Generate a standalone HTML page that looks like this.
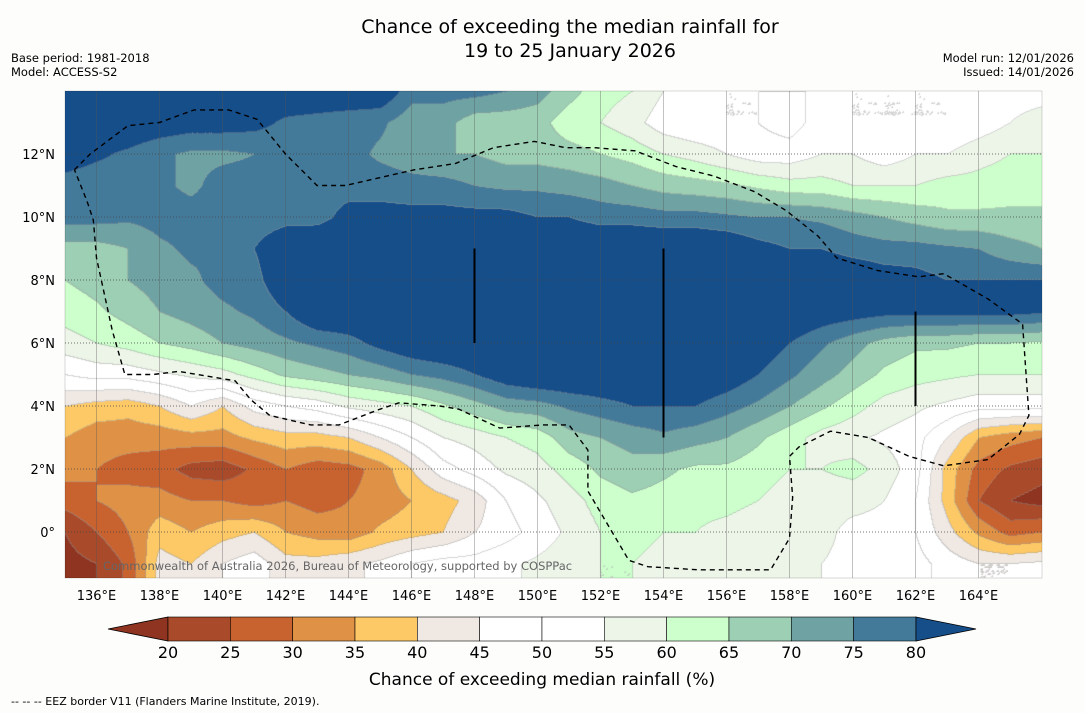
<!DOCTYPE html>
<html><head><meta charset="utf-8">
<style>
html,body{margin:0;padding:0;background:#fdfefc;}
body{width:1085px;height:713px;position:relative;overflow:hidden;font-family:"DejaVu Sans","Liberation Sans",sans-serif;color:#000;}
.t{position:absolute;white-space:nowrap;}
svg text{font-family:"DejaVu Sans","Liberation Sans",sans-serif;}
</style></head>
<body>
<div class="t" style="left:0;width:1140px;top:15px;text-align:center;font-size:19px;line-height:24px;">Chance of exceeding the median rainfall for<br>19 to 25 January 2026</div>
<div class="t" style="left:11px;top:51px;font-size:11.5px;line-height:14px;">Base period: 1981-2018<br>Model: ACCESS-S2</div>
<div class="t" style="right:11px;top:51px;font-size:11.5px;line-height:14px;text-align:right;">Model run: 12/01/2026<br>Issued: 14/01/2026</div>
<canvas id="map" width="977" height="487" style="position:absolute;left:65px;top:91px;"></canvas>
<svg id="ov" width="1085" height="713" style="position:absolute;left:0;top:0;"></svg>
<div class="t" style="left:11px;top:695px;font-size:11px;">--  --  -- EEZ border V11 (Flanders Marine Institute, 2019).</div>
<script>
const lons=[135,136,137,138,139,140,141,142,143,144,145,146,147,148,149,150,151,152,153,154,155,156,157,158,159,160,161,162,163,164,165,166];
const lats=[14,13,12,11,10,9,8,7,6,5,4,3,2,1,0,-1,-2];
const values=[
[85,85,85,85,85,85,85,85,85,85,85,77,77,77,75,72,67,62,60,55,52,50,50,50,50,50,50,50,50,50,52,52],
[85,85,85,84,83,83,82,79,78,77,76,72,72,67,67,67,62,60,57,52,50,50,50,48,52,50,50,50,50,52,55,58],
[83,81,79,76,74,74,75,77,77,77,74,72,70,70,68,68,67,65,63,60,58,55,52,52,55,55,52,55,55,58,60,60],
[78,77,77,76,74,77,77,77,78,78,78,77,77,75,74,74,73,72,70,68,67,66,64,62,62,60,60,60,62,62,63,63],
[77,77,76,77,77,77,77,78,78,82,82,82,82,82,82,80,80,78,78,77,77,76,75,75,74,72,70,68,66,66,66,66],
[68,68,70,74,76,75,80,85,86,86,86,86,86,86,86,86,86,86,86,86,86,85,82,80,80,78,77,77,76,75,72,70],
[65,67,70,72,74,77,78,85,86,86,86,86,86,86,86,86,86,86,86,86,86,86,86,86,86,85,83,82,80,80,80,80],
[62,64,67,70,72,74,76,80,86,86,86,86,86,86,86,86,86,86,86,86,86,86,86,86,84,83,82,82,82,82,82,81],
[58,60,62,65,67,70,72,74,76,78,82,85,86,86,86,86,86,86,86,86,86,86,84,80,76,72,68,66,66,65,65,64],
[50,52,52,54,56,58,62,66,68,70,72,75,77,80,84,86,86,86,86,86,86,84,80,76,72,68,64,62,61,60,60,60],
[40,38,37,40,45,40,47,50,52,56,58,60,64,68,72,73,76,78,80,80,80,77,74,70,66,62,58,56,54,52,52,52],
[35,32,32,32,33,33,36,38,38,40,45,50,55,57,60,62,68,70,72,74,72,70,66,62,58,56,54,52,45,35,32,30],
[32,30,28,27,23,22,26,30,27,28,32,40,48,52,56,58,62,66,68,66,64,64,62,60,60,62,58,52,38,28,24,22],
[27,30,32,32,30,30,28,30,28,30,32,35,38,42,50,54,58,62,64,63,62,62,60,58,56,56,55,50,38,25,20,18],
[20,25,30,38,35,38,40,35,33,32,36,38,40,45,48,52,56,60,62,60,60,58,56,58,56,54,54,50,42,34,28,30],
[18,20,26,42,40,45,48,42,42,44,46,50,52,52,54,56,58,60,60,58,58,57,56,58,55,54,54,52,48,45,45,46],
[18,20,26,42,40,45,48,42,42,44,46,50,52,52,54,56,58,60,60,58,58,57,56,58,55,54,54,52,48,45,45,46]];
const binEdges=[20,25,30,35,40,45,50,55,60,65,70,75,80];
const binColors=["#8e3420","#a94a2a","#c8622f","#df9246","#fdc966","#efe8e3","#ffffff","#ffffff","#ecf5e8","#ccffcc","#9ccfb4","#6fa3a3","#437a9a","#164e8a"];
const xTicks=[136,138,140,142,144,146,148,150,152,154,156,158,160,162,164];
const yTicks=[12,10,8,6,4,2,0];
const eez=[[135.3,11.5],[135.8,12],[137,12.9],[138,13],[139.1,13.4],[140.2,13.4],[141.1,13.1],[142,12],[143,11],[143.9,11],[146.1,11.5],[147.4,11.7],[148.6,12.2],[149.9,12.4],[150.9,12.2],[151.8,12.2],[153.1,12.1],[154.4,11.6],[155.6,11.3],[156.9,10.8],[157.9,10.2],[158.9,9.4],[159.5,8.7],[160.8,8.3],[162.1,8.1],[162.9,8.2],[164.3,7.4],[165.4,6.6],[165.6,3.7],[165.3,3.1],[164.3,2.3],[162.9,2.1],[161.8,2.4],[160.5,3],[159.3,3.2],[158.3,2.7],[158,2.4],[158.1,1.1],[158,-0.2],[157.4,-1.2],[155.1,-1.2],[153.5,-1.1],[152.9,-0.9],[151.6,1.3],[151.6,2.6],[151,3.4],[150.2,3.4],[148.8,3.3],[147.5,3.9],[146.9,4],[145.6,4.1],[145,3.9],[143.7,3.4],[142.8,3.4],[141.5,3.7],[140.9,4.2],[140.4,4.8],[138.6,5.1],[137.8,5],[136.9,5],[136.5,6.4],[136,8.7],[135.9,9.9],[135.7,10.5],[135.3,11.5]];
const bars=[[148,6,9],[154,3,9],[162,4,7]];
const cbLabels=[20,25,30,35,40,45,50,55,60,65,70,75,80];

const X0=65,Y0=91,PX=31.5;
function xs(l){return X0+(l-135)*PX;}
function ys(l){return Y0+(14-l)*PX;}
function bin(v){let i=0;while(i<binEdges.length&&v>=binEdges[i])i++;return i;}
function hex(c){return [parseInt(c.substr(1,2),16),parseInt(c.substr(3,2),16),parseInt(c.substr(5,2),16)];}
const cols=binColors.map(hex);
const cv=document.getElementById('map'),ctx=cv.getContext('2d');
const W=cv.width,H=cv.height,img=ctx.createImageData(W,H);
const B=new Int8Array(W*H);
for(let y=0;y<H;y++){
  const la=14-y/PX;let r=(lats[0]-la);let r0=Math.min(Math.floor(r),lats.length-2);let fr=r-r0;
  for(let x=0;x<W;x++){
    const lo=135+x/PX;let c=lo-lons[0];let c0=Math.min(Math.floor(c),lons.length-2);let fc=c-c0;
    const v=values[r0][c0]*(1-fr)*(1-fc)+values[r0][c0+1]*(1-fr)*fc+values[r0+1][c0]*fr*(1-fc)+values[r0+1][c0+1]*fr*fc;
    B[y*W+x]=bin(v);
  }
}
for(let y=0;y<H;y++)for(let x=0;x<W;x++){
  const b=B[y*W+x];let c=cols[b];
  const edge=(x<W-1&&B[y*W+x+1]!==b)||(y<H-1&&B[(y+1)*W+x]!==b);
  const i=(y*W+x)*4;
  if(edge){img.data[i]=c[0]*0.6+60;img.data[i+1]=c[1]*0.6+60;img.data[i+2]=c[2]*0.6+60;}
  else{img.data[i]=c[0];img.data[i+1]=c[1];img.data[i+2]=c[2];}
  img.data[i+3]=255;
}
ctx.putImageData(img,0,0);

const svg=document.getElementById('ov');const NS='http://www.w3.org/2000/svg';
function mk(t,a,p){const e=document.createElementNS(NS,t);for(const k in a)e.setAttribute(k,a[k]);(p||svg).appendChild(e);return e;}
xTicks.forEach(l=>{
  const g=mk('line',{x1:xs(l),x2:xs(l),y1:91,y2:578,stroke:'#555','stroke-width':0.6,'stroke-opacity':0.6});
  
  
  const t=mk('text',{x:xs(l),y:600,'text-anchor':'middle','font-size':13});t.textContent=l+'°E';
  
  
});
yTicks.forEach(l=>{
  const g=mk('line',{x1:65,x2:1042,y1:ys(l),y2:ys(l),stroke:'#444','stroke-width':0.7,'stroke-dasharray':'1,2'});
  
  
  const t=mk('text',{x:55,y:ys(l)+5,'text-anchor':'end','font-size':13});t.textContent=l===0?'0°':l+'°N';
  
  
});
const p=mk('polyline',{points:eez.map(q=>xs(q[0])+','+ys(q[1])).join(' '),fill:'none',stroke:'#000','stroke-width':1.4,'stroke-dasharray':'5,4'});


bars.forEach(b=>{
  const l=mk('line',{x1:xs(b[0]),x2:xs(b[0]),y1:ys(b[2]),y2:ys(b[1]),stroke:'#000','stroke-width':2});
  
  
});
const cr=mk('text',{x:103,y:570,'font-size':11.5,fill:'#666'});cr.textContent='Commonwealth of Australia 2026, Bureau of Meteorology, supported by COSPPac';


const cbX=168,cbW=62.33,cbY=617,cbH=24;
const lf=mk('polygon',{points:`108,${cbY+cbH/2} ${cbX},${cbY} ${cbX},${cbY+cbH}`,fill:binColors[0],stroke:'#000','stroke-width':0.8});


for(let i=1;i<binColors.length-1;i++){
  const r=mk('rect',{x:cbX+(i-1)*cbW,y:cbY,width:cbW,height:cbH,fill:binColors[i],stroke:'#000','stroke-width':0.6});
  
  
}
const rx=cbX+(binColors.length-2)*cbW;
const ra=mk('polygon',{points:`${rx},${cbY} 976,${cbY+cbH/2} ${rx},${cbY+cbH}`,fill:binColors[binColors.length-1],stroke:'#000','stroke-width':0.8});


cbLabels.forEach((v,i)=>{
  const t=mk('text',{x:cbX+i*cbW,y:658,'text-anchor':'middle','font-size':16});t.textContent=v;
  
  
});
const ct=mk('text',{x:542,y:685,'text-anchor':'middle','font-size':17});ct.textContent='Chance of exceeding median rainfall (%)';


const fr=mk('rect',{x:65,y:91,width:977,height:487,fill:'none',stroke:'#000','stroke-width':0.5,'stroke-opacity':0.3});


</script>
</body></html>
